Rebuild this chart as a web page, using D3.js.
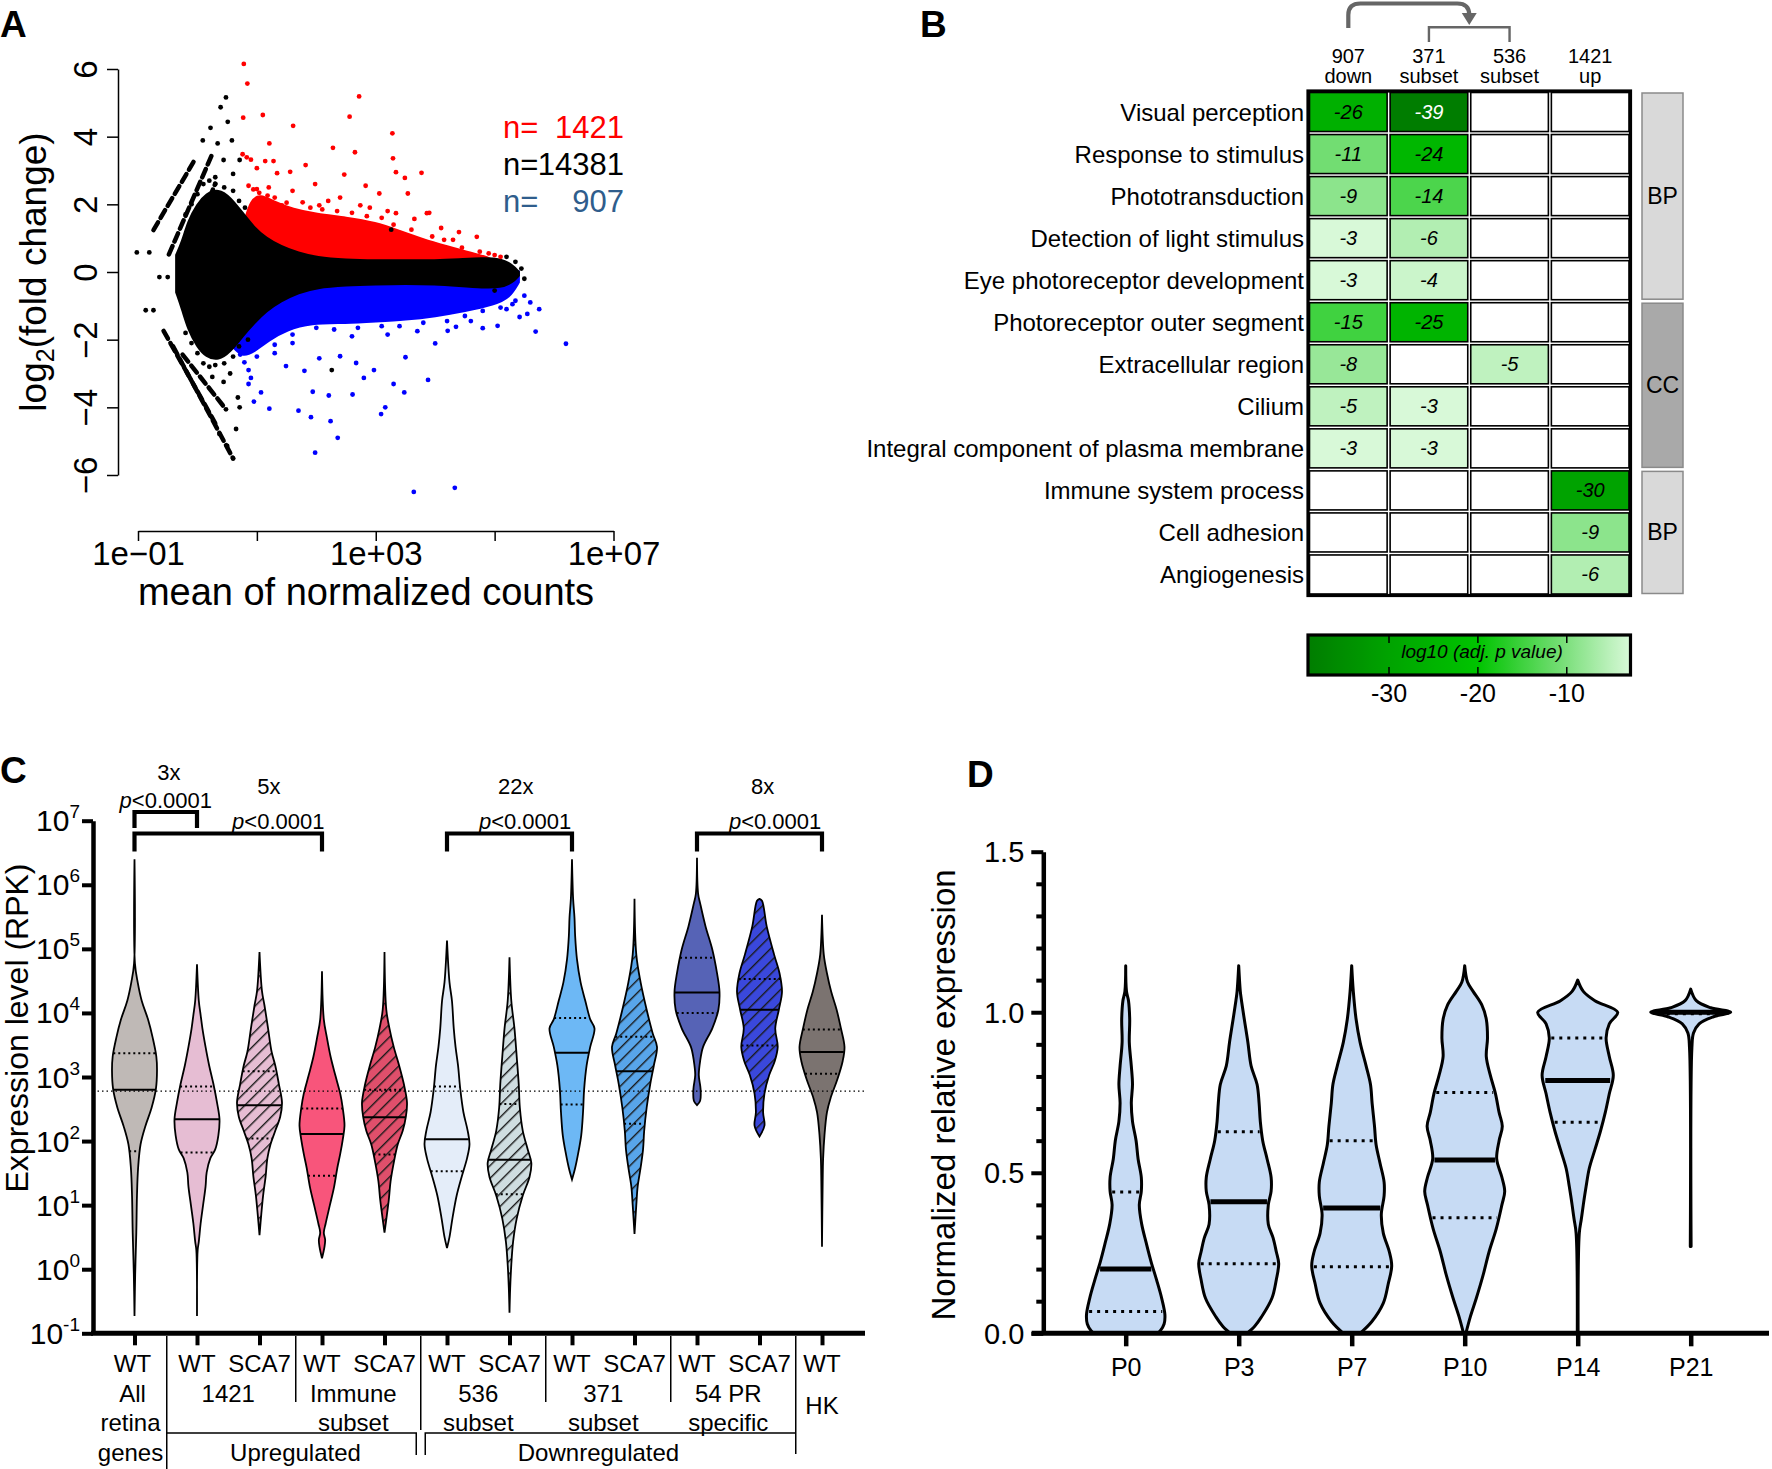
<!DOCTYPE html>
<meta charset="utf-8">
<script src="https://d3js.org/d3.v7.min.js"></script>
<style>
  body { margin: 0; background: #fff; }
  svg text { font-family: "Liberation Sans", Arial, Helvetica, sans-serif; }
</style>
<div id="fig"></div>
<script>
// ================= data =================

// Panel A (MA plot). x = log10(mean of normalized counts), y = log2 fold change
// dense clouds read off the picture as envelopes: [x, low, high]
var maCore = [[-0.35,-0.6,0.5],[-0.25,-1.1,0.9],[-0.15,-1.7,1.5],[0.0,-2.2,2.0],[0.15,-2.5,2.3],
  [0.35,-2.6,2.45],[0.55,-2.35,2.2],[0.75,-1.9,1.75],[0.95,-1.5,1.3],[1.15,-1.15,1.0],[1.4,-0.85,0.75],
  [1.7,-0.6,0.55],[2.0,-0.45,0.42],[2.5,-0.38,0.35],[3.0,-0.35,0.33],[3.5,-0.33,0.33],[4.0,-0.35,0.33],
  [4.4,-0.4,0.36],[4.8,-0.45,0.4],[5.1,-0.45,0.38],[5.3,-0.3,0.2],[5.4,-0.1,0.0]];
var maUp = [[0.8,1.5],[0.9,2.1],[1.05,2.3],[1.3,2.05],[1.6,1.85],[2.0,1.7],[2.5,1.6],[3.0,1.45],
  [3.4,1.2],[3.8,0.95],[4.2,0.75],[4.6,0.55],[4.9,0.42],[5.0,0.3]];
var maDown = [[0.6,-2.2],[0.75,-2.5],[0.95,-2.35],[1.2,-2.0],[1.5,-1.7],[1.9,-1.5],[2.5,-1.5],[3.0,-1.45],
  [3.5,-1.4],[4.0,-1.3],[4.5,-1.15],[5.0,-0.95],[5.25,-0.75],[5.4,-0.3]];
var maRed = [[0.78,6.15],[0.84,5.57],[0.77,4.56],[1.10,4.64],[1.21,3.80],[1.61,4.32],[0.76,3.48],[0.83,3.39],
  [0.90,3.32],[1.14,3.28],[1.28,3.28],[1.0,3.07],[1.82,3.16],[1.56,2.96],[1.34,2.92],[2.72,5.19],[2.56,4.59],
  [3.28,4.10],[2.28,3.67],[2.65,3.54],[3.29,3.36],[3.34,2.95],[3.77,2.93],[3.49,2.78],[2.47,2.88],[1.98,2.60],
  [2.83,2.55],[3.54,2.32],[3.06,2.32],[3.86,1.74],[4.40,1.18],[4.70,1.04],[0.86,2.55],[0.94,2.44],[1.04,2.34],
  [1.18,2.26],[3.65,1.57],[1.42,1.97],[1.77,2.06],[2.05,1.97],[2.40,2.20],[2.74,1.97],[3.34,1.74],[3.9,1.75],
  [4.1,1.3],[4.3,0.95],[2.9,1.9],[2.2,2.1],[1.6,2.4],[1.2,2.5],[3.2,1.8],
  [1.0,2.45],[1.3,2.2],[1.5,2.05],[1.9,1.9],[2.1,1.85],[2.35,1.8],[2.6,1.75],[2.85,1.65],[3.1,1.6],
  [3.3,1.4],[3.6,1.25],[3.95,1.05],[4.15,0.95],[4.45,0.72],[4.75,0.6],[5.0,0.5],[5.1,0.45],[4.9,0.55]];
var maBlue = [[3.64,-6.50],[4.33,-6.38],[1.98,-5.34],[2.36,-4.90],[2.24,-4.41],[1.70,-4.10],[1.91,-4.29],
  [1.21,-4.04],[0.95,-3.83],[1.07,-3.56],[0.86,-3.31],[0.90,-3.13],[1.94,-3.54],[2.21,-3.65],[2.61,-3.62],
  [3.09,-4.20],[3.16,-4.00],[3.30,-3.31],[3.48,-3.56],[3.88,-3.19],[2.80,-3.13],[2.97,-2.90],[2.67,-2.69],
  [2.40,-2.49],[2.05,-2.55],[1.80,-2.92],[1.49,-2.78],[3.50,-2.52],[4.21,-1.74],[4.80,-1.66],[5.05,-1.59],
  [5.42,-1.33],[5.55,-1.24],[5.69,-1.76],[6.20,-2.12],[5.20,-1.10],[4.00,-2.11],[4.35,-1.62],[0.72,-2.44],
  [0.79,-2.67],[0.86,-2.90],[1.3,-2.4],[1.6,-2.1],[2.6,-1.9],[3.2,-1.85],[3.7,-1.75],[4.6,-1.45],[5.3,-0.95],
  [1.0,-2.5],[1.3,-2.15],[1.6,-1.85],[2.0,-1.65],[2.3,-1.7],[2.7,-1.65],[3.1,-1.6],[3.4,-1.6],[3.8,-1.5],
  [4.2,-1.45],[4.5,-1.3],[4.8,-1.15],[5.1,-1.05],[5.35,-0.85],[5.5,-0.7],[5.6,-0.9],[5.75,-1.1]];
var maBlack = [[0.48,5.16],[0.39,4.87],[0.51,4.44],[0.22,4.26],[0.34,3.80],[0.09,3.89],[0.58,3.89],[0.44,3.31],
  [0.71,3.31],[3.26,1.25],[0.60,-5.51],[0.50,-5.14],[0.65,-4.64],[0.37,-4.79],[0.48,-4.06],[0.71,-4.00],
  [0.68,-3.71],[0.44,-3.25],[2.26,-2.90],[-1.02,0.58],[-0.81,0.58],[-0.64,-0.15],[-0.5,-0.15],[-0.87,-1.13],
  [-0.74,-1.13],[0.6,2.9],[0.55,-3.0],[0.3,2.8],[0.25,-3.1],
  [0.0,2.3],[0.1,2.6],[0.2,2.7],[0.3,2.6],[0.45,2.5],[0.6,2.4],[0.7,2.1],[-0.1,2.0],[-0.2,1.7],[0.0,-2.4],
  [0.1,-2.7],[0.2,-2.8],[0.3,-2.75],[0.45,-2.7],[0.6,-2.5],[0.7,-2.2],[-0.1,-2.1],[-0.2,-1.8],[0.85,-2.0],
  [0.8,1.9],[5.35,0.3],[5.45,0.1],[5.5,-0.2],[5.2,0.45],[5.0,-0.55]];
// low-count streaks: [x1, y1, x2, y2]
var maStreaks = [[-0.74,1.24,-0.06,3.27],[-0.48,0.52,0.26,3.53],[-0.32,-0.12,0.30,2.61],
  [-0.57,-1.74,0.30,-4.47],[-0.41,-2.20,0.60,-5.51],[-0.25,-2.44,0.48,-4.06]];
var maCountValues = ["1421", "14381", "907"];
var maCountColors = ["#ff0000", "#000000", "#2f5d8c"];

// Panel B (GO enrichment, log10 adj. p)
var goTerms = ["Visual perception", "Response to stimulus", "Phototransduction", "Detection of light stimulus",
  "Eye photoreceptor development", "Photoreceptor outer segment", "Extracellular region", "Cilium",
  "Integral component of plasma membrane", "Immune system process", "Cell adhesion", "Angiogenesis"];
var goColTop = ["907", "371", "536", "1421"];
var goColBottom = ["down", "subset", "subset", "up"];
var goDown907 = [-26, -11, -9, -3, -3, -15, -8, -5, -3, null, null, null];
var goSub371 = [-39, -24, -14, -6, -4, -25, null, -3, -3, null, null, null];
var goSub536 = [null, null, null, null, null, null, -5, null, null, null, null, null];
var goUp1421 = [null, null, null, null, null, null, null, null, null, -30, -9, -6];
var goGroupLabels = ["BP", "CC", "BP"];
var goGroupSizes = [5, 4, 3];
var goGroupFills = ["#d9d9d9", "#a9a9a9", "#d9d9d9"];
var cbTicks = [-30, -20, -10];

// Panel C (violins, log10 RPK)
var cTop = ["WT", "WT", "SCA7", "WT", "SCA7", "WT", "SCA7", "WT", "SCA7", "WT", "SCA7", "WT"];
var cFills = ["#bfb9b6", "#e6bdd3", "#e6bdd3", "#f8557b", "#e04f6b", "#e4edf9", "#cfdde0",
  "#6db8f5", "#58a5ea", "#5663b6", "#3a48dc", "#7b7370"];
var cHatched = [false, false, true, false, true, false, true, false, true, false, true, false];
var cProfiles = [
  [[6.4,0],[4.77,0.02],[4.48,0.14],[4.19,0.32],[3.9,0.6],[3.61,0.81],[3.32,0.97],[3.1,1],[2.81,0.95],[2.52,0.76],[2.24,0.49],[1.95,0.27],[1.58,0.16],[1.15,0.11],[0.57,0.08],[-0.08,0.03],[-0.73,0]],
  [[4.76,0],[4.19,0.08],[3.97,0.16],[3.76,0.24],[3.47,0.38],[3.18,0.54],[2.89,0.73],[2.6,0.89],[2.34,1],[2.09,0.95],[1.87,0.81],[1.73,0.59],[1.51,0.43],[1.29,0.38],[1.0,0.27],[0.71,0.16],[0.43,0.08],[0.3,0.03],[-0.73,0]],
  [[4.95,0],[4.34,0.11],[4.12,0.22],[3.76,0.38],[3.39,0.54],[3.18,0.7],[2.89,0.86],[2.6,1],[2.38,0.92],[2.16,0.7],[1.95,0.49],[1.73,0.35],[1.44,0.27],[1.15,0.16],[0.86,0.08],[0.53,0]],
  [[4.65,0],[3.9,0.08],[3.61,0.22],[3.32,0.38],[3.03,0.59],[2.74,0.81],[2.52,0.92],[2.24,1],[2.02,0.92],[1.8,0.81],[1.58,0.68],[1.29,0.54],[1.0,0.35],[0.71,0.16],[0.57,0.08],[0.46,0.14],[0.35,0.11],[0.17,0]],
  [[4.95,0],[4.05,0.08],[3.76,0.22],[3.47,0.41],[3.18,0.65],[2.89,0.86],[2.6,1],[2.38,0.95],[2.16,0.81],[1.95,0.59],[1.66,0.41],[1.37,0.27],[1.08,0.19],[0.86,0.11],[0.57,0]],
  [[5.13,0],[4.48,0.11],[4.19,0.22],[3.76,0.3],[3.47,0.38],[3.18,0.49],[2.81,0.59],[2.45,0.73],[2.16,0.92],[1.95,1],[1.73,0.89],[1.44,0.65],[1.15,0.43],[0.79,0.24],[0.5,0.11],[0.33,0]],
  [[4.87,0],[4.19,0.08],[3.76,0.22],[3.32,0.32],[2.89,0.41],[2.52,0.46],[2.16,0.59],[1.87,0.81],[1.66,0.97],[1.44,0.89],[1.15,0.59],[0.79,0.32],[0.43,0.16],[0.07,0.08],[-0.3,0.03],[-0.68,0]],
  [[6.4,0],[5.78,0.05],[5.49,0.11],[5.2,0.14],[4.84,0.22],[4.48,0.38],[4.19,0.59],[3.9,0.81],[3.76,1],[3.47,0.81],[3.18,0.65],[2.81,0.54],[2.45,0.49],[2.09,0.41],[1.8,0.27],[1.58,0.14],[1.4,0]],
  [[5.78,0],[4.91,0.08],[4.48,0.27],[4.05,0.54],[3.68,0.81],[3.47,1],[3.18,0.86],[2.89,0.7],[2.52,0.54],[2.16,0.43],[1.87,0.38],[1.58,0.27],[1.29,0.14],[1.0,0.08],[0.55,0]],
  [[6.42,0],[5.86,0.05],[5.71,0.14],[5.35,0.38],[4.99,0.68],[4.62,0.89],[4.33,1],[4.05,0.95],[3.76,0.68],[3.47,0.27],[3.25,0.14],[3.03,0.08],[2.81,0.16],[2.63,0.14],[2.56,0]],
  [[5.78,0],[5.75,0.11],[5.35,0.32],[4.91,0.65],[4.62,0.89],[4.33,1],[4.05,0.86],[3.76,0.7],[3.47,0.81],[3.25,0.68],[3.03,0.43],[2.74,0.22],[2.45,0.16],[2.24,0.22],[2.07,0]],
  [[5.53,0],[4.91,0.08],[4.62,0.22],[4.33,0.41],[4.05,0.65],[3.76,0.84],[3.47,1],[3.25,0.92],[2.96,0.68],[2.67,0.38],[2.45,0.22],[2.09,0.11],[1.73,0.05],[1.37,0.03],[0.35,0]]
];
var cMedian = [2.8, 2.34, 2.56, 2.11, 2.37, 2.03, 1.71, 3.38, 3.09, 4.32, 4.05, 3.39];
var cQ1 = [1.84, 1.82, 2.04, 1.46, 1.79, 1.53, 1.17, 2.57, 2.27, 4.0, 3.49, 3.05];
var cQ3 = [3.37, 2.85, 3.09, 2.51, 2.8, 2.85, 2.58, 3.92, 3.63, 4.86, 4.53, 3.74];
var cRefLevel = 2.78;
var cSetNames = ["1421", "Immune", "536", "371", "54 PR"];
var cSetSecond = ["", "subset", "subset", "subset", "specific"];
// comparisons: [from, to, fold label, label position, p position, level]
var cBrackets = [[0, 1, "3x", 0.55, 0.5, 1], [0, 3, "5x", 2.15, 2.3, 0],
  [5, 7, "22x", 6.1, 6.25, 0], [9, 11, "8x", 10.05, 10.25, 0]];

// Panel D (normalized relative expression)
var dStages = ["P0", "P3", "P7", "P10", "P14", "P21"];
var dProfiles = [
  [[1.145,0],[1.065,0.02],[1.036,0.07],[0.978,0.1],[0.906,0.09],[0.833,0.14],[0.775,0.17],[0.717,0.14],[0.66,0.17],[0.6,0.26],[0.543,0.31],[0.486,0.39],[0.442,0.39],[0.4,0.34],[0.34,0.4],[0.283,0.51],[0.225,0.63],[0.167,0.77],[0.109,0.9],[0.058,0.98],[0.029,0.96],[0.007,0.86],[0,0.79]],
  [[1.145,0],[1.065,0.04],[1.036,0.07],[0.978,0.14],[0.906,0.23],[0.833,0.31],[0.775,0.46],[0.717,0.51],[0.66,0.54],[0.6,0.6],[0.543,0.71],[0.486,0.81],[0.442,0.81],[0.4,0.74],[0.34,0.74],[0.297,0.86],[0.254,0.94],[0.217,1],[0.167,0.94],[0.109,0.83],[0.051,0.57],[0.022,0.4],[0,0.21]],
  [[1.145,0],[1.065,0.04],[0.978,0.11],[0.906,0.21],[0.833,0.36],[0.775,0.47],[0.717,0.51],[0.645,0.57],[0.587,0.61],[0.529,0.71],[0.471,0.81],[0.428,0.81],[0.37,0.74],[0.312,0.79],[0.254,0.94],[0.21,1],[0.152,0.91],[0.094,0.79],[0.036,0.5],[0,0.21]],
  [[1.145,0],[1.094,0.07],[1.065,0.21],[1.022,0.43],[0.978,0.54],[0.92,0.57],[0.862,0.54],[0.804,0.64],[0.746,0.77],[0.688,0.86],[0.645,0.94],[0.6,0.86],[0.543,0.8],[0.486,0.93],[0.442,1],[0.4,0.93],[0.326,0.79],[0.254,0.61],[0.181,0.46],[0.109,0.29],[0.051,0.14],[0,0.03]],
  [[1.1,0],[1.065,0.14],[1.036,0.43],[1.0,1],[0.964,0.79],[0.92,0.71],[0.862,0.79],[0.804,0.89],[0.746,0.79],[0.688,0.69],[0.63,0.57],[0.572,0.43],[0.514,0.29],[0.457,0.21],[0.4,0.14],[0.355,0.09],[0.312,0.04],[0,0.01]],
  [[1.072,0],[1.036,0.14],[1.014,0.5],[1.0,1],[0.986,0.57],[0.964,0.21],[0.935,0.07],[0.89,0.03],[0.27,0.01]]
];
var dMedian = [0.2, 0.41, 0.39, 0.54, 0.787, 1.0];
var dQ1 = [0.068, 0.217, 0.207, 0.36, 0.657, 0.995];
var dQ3 = [0.44, 0.628, 0.6, 0.75, 0.92, 1.0];

// ================= drawing =================
var svg = d3.select("#fig").append("svg").attr("width", 1772).attr("height", 1469);
var defs = svg.append("defs");

function letter(t, x, y) {
  svg.append("text").attr("x", x).attr("y", y).text(t)
    .attr("font-size", 37).attr("font-weight", "bold");
}
letter("A", 0, 37); letter("B", 920, 37); letter("C", 0, 783); letter("D", 967, 787);

// width of a violin at a given value (linear between profile points)
function widthAt(profile, v) {
  return d3.scaleLinear().domain(profile.map(d => d[0])).range(profile.map(d => d[1])).clamp(true)(v);
}

// ---------- Panel A ----------
var ax = d3.scaleLinear().domain([-1, 7]).range([138, 613.5]);
var ay = d3.scaleLinear().domain([-6, 6]).range([475, 69]);
var gA = svg.append("g");

gA.append("path").datum(maUp).attr("fill", "#ff0000").attr("stroke", "#ff0000").attr("stroke-width", 3)
  .attr("d", d3.area().x(d => ax(d[0])).y0(ay(0)).y1(d => ay(d[1])).curve(d3.curveBasis));
gA.append("path").datum(maDown).attr("fill", "#0000ff").attr("stroke", "#0000ff").attr("stroke-width", 3)
  .attr("d", d3.area().x(d => ax(d[0])).y0(ay(0)).y1(d => ay(d[1])).curve(d3.curveBasis));
gA.append("path").datum(maCore).attr("fill", "#000").attr("stroke", "#000").attr("stroke-width", 3)
  .attr("d", d3.area().x(d => ax(d[0])).y0(d => ay(d[1])).y1(d => ay(d[2])).curve(d3.curveBasis));

gA.selectAll(".streak").data(maStreaks).enter().append("line")
  .attr("x1", d => ax(d[0])).attr("y1", d => ay(d[1])).attr("x2", d => ax(d[2])).attr("y2", d => ay(d[3]))
  .attr("stroke", "#000").attr("stroke-width", 4.5).attr("stroke-linecap", "round")
  .attr("stroke-dasharray", "9 5");

function dots(data, color) {
  gA.selectAll(null).data(data).enter().append("circle")
    .attr("cx", d => ax(d[0])).attr("cy", d => ay(d[1])).attr("r", 2.4).attr("fill", color);
}
dots(maBlack, "#000"); dots(maRed, "#ff0000"); dots(maBlue, "#0000ff");

var yAxA = gA.append("g").attr("transform", "translate(118,0)")
  .call(d3.axisLeft(ay).tickValues([-6, -4, -2, 0, 2, 4, 6]).tickSize(11).tickSizeOuter(0).tickFormat(""));
yAxA.selectAll(".tick").append("text").attr("transform", "translate(-21,0) rotate(-90)")
  .attr("text-anchor", "middle").attr("fill", "#000").attr("font-size", 33)
  .text(d => d < 0 ? "\u2212" + Math.abs(d) : d);
var xAxA = gA.append("g").attr("transform", "translate(0,531)")
  .call(d3.axisBottom(ax).tickValues([-1, 1, 3, 5, 7]).tickSize(10).tickSizeOuter(0).tickFormat(""));
xAxA.selectAll(".tick").filter(d => d !== 1 && d !== 5).append("text").attr("y", 34)
  .attr("text-anchor", "middle").attr("fill", "#000").attr("font-size", 33)
  .text(d => "1e" + (d < 0 ? "\u2212" : "+") + d3.format("02")(Math.abs(d)));
[yAxA, xAxA].forEach(g => g.selectAll("path, line").attr("stroke-width", 1.5));

var yt = gA.append("text").attr("transform", "translate(46,272) rotate(-90)").attr("text-anchor", "middle")
  .attr("font-size", 37);
yt.append("tspan").text("log");
yt.append("tspan").text("2").attr("font-size", 25).attr("dy", 8);
yt.append("tspan").text("(fold change)").attr("dy", -8);
gA.append("text").attr("x", 366).attr("y", 605).attr("text-anchor", "middle").attr("font-size", 38)
  .text("mean of normalized counts");

maCountValues.forEach(function (v, i) {
  var yy = 138 + i * 37;
  gA.append("text").attr("x", 503).attr("y", yy).attr("font-size", 31).attr("fill", maCountColors[i]).text("n=");
  gA.append("text").attr("x", 624).attr("y", yy).attr("font-size", 31).attr("fill", maCountColors[i])
    .attr("text-anchor", "end").text(v);
});

// ---------- Panel B ----------
var gB = svg.append("g");
var goCols = [goDown907, goSub371, goSub536, goUp1421];
var bx = d3.scaleBand().domain(d3.range(4)).range([1308, 1630.5]);
var by = d3.scaleBand().domain(d3.range(goTerms.length)).range([91, 595.5]);
var goColor = d3.scaleLinear().domain([-39, -30, -20, -10, -3])
  .range(["#007d00", "#00a300", "#00c400", "#7fe07f", "#d8f9d8"]);

goCols.forEach(function (col, c) {
  col.forEach(function (v, r) {
    gB.append("rect").attr("x", bx(c) + 1.5).attr("y", by(r) + 1.5)
      .attr("width", bx.bandwidth() - 3).attr("height", by.bandwidth() - 3)
      .attr("fill", v == null ? "#fff" : goColor(v)).attr("stroke", "#000").attr("stroke-width", 1.6);
    if (v != null) {
      gB.append("text").attr("x", bx(c) + bx.bandwidth() / 2).attr("y", by(r) + by.bandwidth() / 2 + 7)
        .attr("text-anchor", "middle").attr("font-size", 20).attr("font-style", "italic")
        .attr("fill", v < -35 ? "#fff" : "#000").text(v);
    }
  });
});
gB.append("rect").attr("x", 1308).attr("y", 91).attr("width", 322.5).attr("height", 504.5)
  .attr("fill", "none").attr("stroke", "#000").attr("stroke-width", 3.2);

goTerms.forEach(function (t, r) {
  gB.append("text").attr("x", 1304).attr("y", by(r) + by.bandwidth() / 2 + 8.5)
    .attr("text-anchor", "end").attr("font-size", 24).text(t);
});
goColTop.forEach(function (t, c) {
  var cx = bx(c) + bx.bandwidth() / 2;
  gB.append("text").attr("x", cx).attr("y", 63).attr("text-anchor", "middle").attr("font-size", 20).text(t);
  gB.append("text").attr("x", cx).attr("y", 83).attr("text-anchor", "middle").attr("font-size", 20).text(goColBottom[c]);
});

// subset bracket and arrow from "907 down" to it
var c0 = bx(0) + bx.bandwidth() / 2, c1 = bx(1) + bx.bandwidth() / 2, c2 = bx(2) + bx.bandwidth() / 2;
var mid12 = bx(2);
gB.append("path").attr("d", "M" + c1 + ",42V27.3H" + c2 + "V42")
  .attr("fill", "none").attr("stroke", "#666").attr("stroke-width", 2.4);
gB.append("path").attr("d", "M" + c0 + ",28V15Q" + c0 + ",3.5 " + (c0 + 12) + ",3.5H" + (mid12 - 12) +
    "Q" + mid12 + ",3.5 " + mid12 + ",15V16")
  .attr("fill", "none").attr("stroke", "#666").attr("stroke-width", 4.2);
gB.append("path").attr("d", "M" + (mid12 - 7.5) + ",13L" + (mid12 + 7.5) + ",13L" + mid12 + ",25Z").attr("fill", "#666");

// GO category bars
var rowStart = 0;
goGroupLabels.forEach(function (lab, i) {
  var y0 = by(rowStart), y1 = by(rowStart + goGroupSizes[i] - 1) + by.bandwidth();
  gB.append("rect").attr("x", 1642).attr("y", y0 + 2).attr("width", 41).attr("height", y1 - y0 - 4)
    .attr("fill", goGroupFills[i]).attr("stroke", "#8a8a8a").attr("stroke-width", 1.5);
  gB.append("text").attr("x", 1662.5).attr("y", (y0 + y1) / 2 + 8).attr("text-anchor", "middle")
    .attr("font-size", 23).text(lab);
  rowStart += goGroupSizes[i];
});

// colour bar
var cbx = d3.scaleLinear().domain([-39, -3]).range([1309, 1629]);
var grad = defs.append("linearGradient").attr("id", "cbgrad");
d3.range(-39, -2.9, 1).forEach(function (v) {
  grad.append("stop").attr("offset", (v + 39) / 36).attr("stop-color", goColor(v));
});
gB.append("rect").attr("x", 1308).attr("y", 635).attr("width", 322.5).attr("height", 40)
  .attr("fill", "url(#cbgrad)").attr("stroke", "#000").attr("stroke-width", 3.2);
cbTicks.forEach(function (t) {
  gB.append("line").attr("x1", cbx(t)).attr("x2", cbx(t)).attr("y1", 636).attr("y2", 643).attr("stroke", "#000").attr("stroke-width", 1.5);
  gB.append("line").attr("x1", cbx(t)).attr("x2", cbx(t)).attr("y1", 667).attr("y2", 674).attr("stroke", "#000").attr("stroke-width", 1.5);
  gB.append("text").attr("x", cbx(t)).attr("y", 702).attr("text-anchor", "middle").attr("font-size", 25).text(t);
});
gB.append("text").attr("x", 1482).attr("y", 658).attr("text-anchor", "middle").attr("font-size", 19)
  .attr("font-style", "italic").text("log10 (adj. p value)");

// ---------- Panel C ----------
var gC = svg.append("g");
var cx = d3.scaleLinear().domain([0, 11]).range([134.5, 822]);
var cy = d3.scaleLog().domain([0.1, 1e7]).range([1333.3, 820.7]);
var cHalf = 22.5;
var pow = e => Math.pow(10, e);

cFills.forEach(function (f, i) {
  if (!cHatched[i]) return;
  var p = defs.append("pattern").attr("id", "hatch" + i).attr("patternUnits", "userSpaceOnUse")
    .attr("width", 9).attr("height", 9).attr("patternTransform", "rotate(45)");
  p.append("rect").attr("width", 9).attr("height", 9).attr("fill", f);
  p.append("line").attr("x1", 0).attr("y1", 0).attr("x2", 0).attr("y2", 9)
    .attr("stroke", "#1a1a1a").attr("stroke-width", 2.8);
});

cProfiles.forEach(function (prof, i) {
  var x0 = cx(i);
  var area = d3.area().y(d => cy(pow(d[0]))).x0(d => x0 - d[1] * cHalf).x1(d => x0 + d[1] * cHalf)
    .curve(d3.curveCatmullRom.alpha(0.5));
  gC.append("path").datum(prof).attr("d", area)
    .attr("fill", cHatched[i] ? "url(#hatch" + i + ")" : cFills[i])
    .attr("stroke", "#000").attr("stroke-width", 1.8);
  [[cMedian[i], null], [cQ1[i], "2 3"], [cQ3[i], "2 3"]].forEach(function (q) {
    var w = widthAt(prof, q[0]) * cHalf;
    gC.append("line").attr("x1", x0 - w).attr("x2", x0 + w).attr("y1", cy(pow(q[0]))).attr("y2", cy(pow(q[0])))
      .attr("stroke", "#000").attr("stroke-width", 2).attr("stroke-dasharray", q[1]);
  });
});
gC.append("line").attr("x1", 93).attr("x2", 865).attr("y1", cy(pow(cRefLevel))).attr("y2", cy(pow(cRefLevel)))
  .attr("stroke", "#000").attr("stroke-width", 1.2).attr("stroke-dasharray", "1.5 3");

var cyAx = gC.append("g").attr("transform", "translate(93,0)")
  .call(d3.axisLeft(cy).tickValues(d3.range(-1, 8).map(pow)).tickSize(11).tickSizeOuter(0).tickFormat(""));
cyAx.select(".domain").attr("stroke-width", 4.5);
cyAx.selectAll(".tick line").attr("stroke-width", 4);
cyAx.selectAll(".tick").append("text").attr("x", -13).attr("y", 10).attr("text-anchor", "end")
  .attr("fill", "#000").attr("font-size", 30)
  .each(function (d) {
    var e = Math.round(Math.log10(d));
    var t = d3.select(this);
    t.append("tspan").text("10");
    t.append("tspan").text(e).attr("font-size", 19).attr("dy", -13);
  });

var cxAx = gC.append("g").attr("transform", "translate(0,1333.3)")
  .call(d3.axisBottom(cx).tickValues(d3.range(12)).tickSize(12).tickSizeOuter(0).tickFormat(""));
cxAx.select(".domain").attr("d", "M91,0H865").attr("stroke-width", 5);
cxAx.selectAll(".tick line").attr("stroke-width", 4);

gC.append("text").attr("transform", "translate(28,1028) rotate(-90)").attr("text-anchor", "middle")
  .attr("font-size", 32).text("Expression level (RPK)");

cTop.forEach(function (t, i) {
  gC.append("text").attr("x", i === 0 ? cx(i) - 2 : cx(i)).attr("y", 1372).attr("text-anchor", "middle").attr("font-size", 24).text(t);
});
gC.append("text").attr("x", cx(0) - 2).attr("y", 1402).attr("text-anchor", "middle").attr("font-size", 24).text("All");
gC.append("text").attr("x", cx(0) - 4).attr("y", 1431).attr("text-anchor", "middle").attr("font-size", 24).text("retina");
gC.append("text").attr("x", cx(0) - 4).attr("y", 1461).attr("text-anchor", "middle").attr("font-size", 24).text("genes");
gC.append("text").attr("x", cx(11)).attr("y", 1414).attr("text-anchor", "middle").attr("font-size", 24).text("HK");
cSetNames.forEach(function (t, k) {
  var xm = (cx(1 + 2 * k) + cx(2 + 2 * k)) / 2;
  gC.append("text").attr("x", xm).attr("y", 1402).attr("text-anchor", "middle").attr("font-size", 24).text(t);
  gC.append("text").attr("x", xm).attr("y", 1431).attr("text-anchor", "middle").attr("font-size", 24).text(cSetSecond[k]);
});
// separators between groups
var sepX = [0, 2, 4, 6, 8, 10].map(i => (cx(i) + cx(i + 1)) / 2 + (i === 0 ? 1 : 5));
var sepEnd = [1469, 1402, 1430, 1402, 1402, 1454];
sepX.forEach(function (x, k) {
  gC.append("line").attr("x1", x).attr("x2", x).attr("y1", 1336).attr("y2", sepEnd[k])
    .attr("stroke", "#000").attr("stroke-width", 1.5);
});
var upR = sepX[2] - 4.5, downL = sepX[2] + 4.5;
gC.append("path").attr("d", "M" + sepX[0] + ",1433H" + upR + "V1455").attr("fill", "none").attr("stroke", "#000").attr("stroke-width", 1.5);
gC.append("path").attr("d", "M" + downL + ",1455V1433H" + sepX[5]).attr("fill", "none").attr("stroke", "#000").attr("stroke-width", 1.5);
gC.append("text").attr("x", (sepX[0] + upR) / 2 + 4).attr("y", 1461).attr("text-anchor", "middle").attr("font-size", 24).text("Upregulated");
gC.append("text").attr("x", (downL + sepX[5]) / 2 - 12).attr("y", 1461).attr("text-anchor", "middle").attr("font-size", 24).text("Downregulated");

// significance brackets
cBrackets.forEach(function (b) {
  var yTop = b[5] === 1 ? 812 : 833.5, yLeg = b[5] === 1 ? 828 : 851.5;
  gC.append("path").attr("d", "M" + cx(b[0]) + "," + yLeg + "V" + yTop + "H" + cx(b[1]) + "V" + yLeg)
    .attr("fill", "none").attr("stroke", "#000").attr("stroke-width", 4.2);
  var yLab = b[5] === 1 ? 780 : 794, yP = b[5] === 1 ? 808 : 829;
  gC.append("text").attr("x", cx(b[3])).attr("y", yLab).attr("text-anchor", "middle").attr("font-size", 22).text(b[2]);
  var pt = gC.append("text").attr("x", cx(b[4])).attr("y", yP).attr("text-anchor", "middle").attr("font-size", 22);
  pt.append("tspan").attr("font-style", "italic").text("p");
  pt.append("tspan").text("<0.0001");
});

// ---------- Panel D ----------
var gD = svg.append("g");
var dx = d3.scaleLinear().domain([0, 5]).range([1125.7, 1690.7]);
var dy = d3.scaleLinear().domain([0, 1.5]).range([1333.3, 851.7]);
var dHalf = 40;

dProfiles.forEach(function (prof, i) {
  var x0 = dx(i);
  var area = d3.area().y(d => dy(d[0])).x0(d => x0 - d[1] * dHalf).x1(d => x0 + d[1] * dHalf)
    .curve(d3.curveCatmullRom.alpha(0.5));
  gD.append("path").datum(prof).attr("d", area).attr("fill", "#c7dbf4")
    .attr("stroke", "#000").attr("stroke-width", 3).attr("stroke-linejoin", "round");
  [[dQ1[i], "3 5", 3], [dQ3[i], "3 5", 3], [dMedian[i], null, 5]].forEach(function (q) {
    var w = widthAt(prof, q[0]) * dHalf - 2;
    gD.append("line").attr("x1", x0 - w).attr("x2", x0 + w).attr("y1", dy(q[0])).attr("y2", dy(q[0]))
      .attr("stroke", "#000").attr("stroke-width", q[2]).attr("stroke-dasharray", q[1]);
  });
});

var dyAx = gD.append("g").attr("transform", "translate(1043.3,0)")
  .call(d3.axisLeft(dy).tickValues([0, 0.5, 1, 1.5]).tickSize(12).tickSizeOuter(0).tickFormat(d3.format(".1f")));
dyAx.select(".domain").attr("stroke-width", 4.5);
dyAx.selectAll(".tick line").attr("stroke-width", 4);
dyAx.selectAll(".tick text").attr("font-size", 29).attr("x", -19).attr("dy", "0.34em");
gD.append("g").attr("transform", "translate(1043.3,0)")
  .call(d3.axisLeft(dy).tickValues(d3.range(1, 15).filter(k => k % 5).map(k => k / 10)).tickSize(7).tickFormat(""))
  .call(g => g.select(".domain").remove())
  .selectAll("line").attr("stroke-width", 4);

var dxAx = gD.append("g").attr("transform", "translate(0,1333.3)")
  .call(d3.axisBottom(dx).tickValues(d3.range(6)).tickSize(13).tickSizeOuter(0).tickFormat(i => dStages[i]));
dxAx.select(".domain").attr("d", "M1031.7,0H1769").attr("stroke-width", 5);
dxAx.selectAll(".tick line").attr("stroke-width", 4.5);
dxAx.selectAll(".tick text").attr("font-size", 25).attr("y", 43).attr("dy", 0);

gD.append("text").attr("transform", "translate(955,1095) rotate(-90)").attr("text-anchor", "middle")
  .attr("font-size", 33).text("Normalized relative expression");
</script>
